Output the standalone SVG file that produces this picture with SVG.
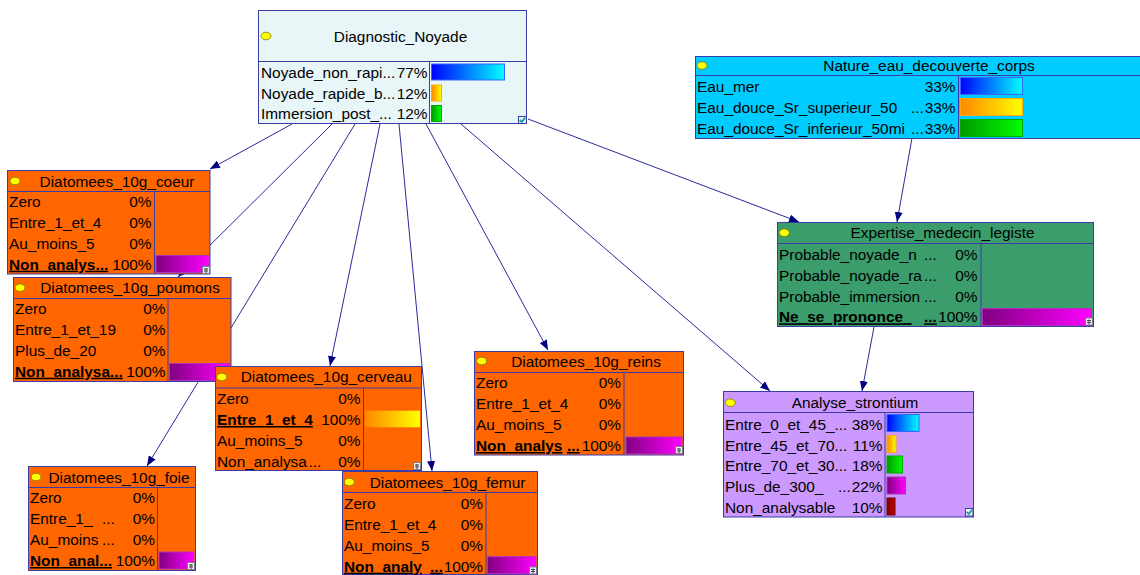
<svg xmlns="http://www.w3.org/2000/svg" width="1140" height="575" viewBox="0 0 1140 575">
<style>
.t{font-family:"Liberation Sans",Arial,sans-serif;font-size:15.4px;fill:#000}
.ttl{text-anchor:middle}
.pct{text-anchor:end}
.ev{font-weight:bold;text-decoration:underline}
.box{stroke:#3c3ca8;stroke-width:1}
.sep{stroke:#3c3ca8;stroke-width:1;fill:none}
.dot{fill:#ffff00;stroke:#7a7a00;stroke-width:0.8}
.edge{stroke:#2a2a9a;stroke-width:1;fill:none;marker-end:url(#arr)}
.or{fill:#ff6600}
.b1{fill:url(#gBlue);stroke:#3366ff;stroke-width:1}
.b2{fill:url(#gOrange);stroke:#ffaa00;stroke-width:1}
.b3{fill:url(#gGreen);stroke:#00aa00;stroke-width:1}
.b4{fill:url(#gMag);stroke:#b030c0;stroke-width:1}
.b5{fill:url(#gRed);stroke:#700000;stroke-width:1}
.ico{fill:#f2f2f2;stroke:#7a7a8a;stroke-width:1}
.ick{fill:#e8f4f8;stroke:#3c3ca8;stroke-width:1}
.ckm{fill:none;stroke:#1a9a9a;stroke-width:1.8}
.icl{stroke:#444;stroke-width:1}
</style>
<defs>
<linearGradient id="gBlue"><stop offset="0" stop-color="#0000ff"/><stop offset="1" stop-color="#00ffff"/></linearGradient>
<linearGradient id="gOrange"><stop offset="0" stop-color="#ff8800"/><stop offset="1" stop-color="#ffff00"/></linearGradient>
<linearGradient id="gGreen"><stop offset="0" stop-color="#009900"/><stop offset="1" stop-color="#00ff00"/></linearGradient>
<linearGradient id="gMag"><stop offset="0" stop-color="#800080"/><stop offset="1" stop-color="#ff00ff"/></linearGradient>
<linearGradient id="gRed"><stop offset="0" stop-color="#800000"/><stop offset="1" stop-color="#c00000"/></linearGradient>
<marker id="arr" viewBox="0 0 10 8" refX="10" refY="4" markerWidth="10" markerHeight="8" markerUnits="userSpaceOnUse" orient="auto"><path d="M0,0 L10,4 L0,8 z" fill="#000080"/></marker>
</defs>
<rect x="0" y="0" width="1140" height="575" fill="#ffffff"/>

<g id="connectors">
<line class="edge" x1="292" y1="124" x2="210" y2="169"/>
<line class="edge" x1="332" y1="124" x2="178" y2="277"/>
<line class="edge" x1="355" y1="124" x2="147" y2="466"/>
<line class="edge" x1="380" y1="124" x2="330" y2="366"/>
<line class="edge" x1="399" y1="124" x2="432" y2="471"/>
<line class="edge" x1="426" y1="124" x2="548" y2="350"/>
<line class="edge" x1="461" y1="124" x2="770" y2="391"/>
<line class="edge" x1="528" y1="119" x2="799" y2="222"/>
<line class="edge" x1="912" y1="138" x2="897" y2="222"/>
<line class="edge" x1="874" y1="327" x2="862" y2="391"/>
</g>

<g id="n-diagnostic">
<rect class="box" x="258.5" y="10.5" width="268" height="113" fill="#e8f6f7"/>
<line class="sep" x1="258.5" y1="61.5" x2="526.5" y2="61.5"/>
<line class="sep" x1="429.5" y1="61.5" x2="429.5" y2="123.5"/>
<ellipse class="dot" cx="266" cy="36" rx="5" ry="3.8"/>
<text class="t ttl" x="400.5" y="41.5">Diagnostic_Noyade</text>
<text class="t" x="261" y="78">Noyade_non_rapi...</text><text class="t pct" x="427.5" y="78">77%</text>
<text class="t" x="261" y="98.5">Noyade_rapide_b...</text><text class="t pct" x="427.5" y="98.5">12%</text>
<text class="t" x="261" y="119">Immersion_post_...</text><text class="t pct" x="427.5" y="119">12%</text>
<rect class="b1" x="431.5" y="64" width="73" height="16"/>
<rect class="b2" x="431.5" y="85" width="10" height="16"/>
<rect class="b3" x="431.5" y="105.5" width="10" height="16"/>
<rect class="ick" x="518.5" y="116.5" width="8" height="7"/>
<path class="ckm" d="M519.8,120 L521.8,122 L525.2,117.6"/>
</g>

<g id="n-nature">
<rect class="box" x="695.5" y="56.5" width="452" height="82" fill="#00ccff"/>
<line class="sep" x1="695.5" y1="75.5" x2="1140" y2="75.5"/>
<line class="sep" x1="958.5" y1="75.5" x2="958.5" y2="138.5"/>
<ellipse class="dot" cx="702" cy="65.5" rx="5" ry="3.8"/>
<text class="t ttl" x="929" y="71">Nature_eau_decouverte_corps</text>
<text class="t" x="697" y="92.3">Eau_mer</text><text class="t pct" x="955.5" y="92.3">33%</text>
<text class="t" x="697" y="113.3">Eau_douce_Sr_superieur_50<tspan x="911">...</tspan></text><text class="t pct" x="955.5" y="113.3">33%</text>
<text class="t" x="697" y="134.3">Eau_douce_Sr_inferieur_50mi<tspan x="911">...</tspan></text><text class="t pct" x="955.5" y="134.3">33%</text>
<rect class="b1" x="960.5" y="77.5" width="62" height="17"/>
<rect class="b2" x="960.5" y="98.5" width="62" height="17"/>
<rect class="b3" x="960.5" y="119.5" width="62" height="17"/>
</g>

<g id="n-coeur">
<rect class="box or" x="7.5" y="170.5" width="202.5" height="103.5"/>
<line class="sep" x1="7.5" y1="191.5" x2="210" y2="191.5"/>
<line class="sep" x1="154.5" y1="191.5" x2="154.5" y2="274"/>
<ellipse class="dot" cx="15" cy="181" rx="5" ry="3.8"/>
<text class="t ttl" x="117" y="186.5">Diatomees_10g_coeur</text>
<text class="t" x="9" y="206.7">Zero</text><text class="t pct" x="151.5" y="206.7">0%</text>
<text class="t" x="9" y="227.7">Entre_1_et_4</text><text class="t pct" x="151.5" y="227.7">0%</text>
<text class="t" x="9" y="248.7">Au_moins_5</text><text class="t pct" x="151.5" y="248.7">0%</text>
<text class="t ev" x="9" y="269.7">Non_analys...</text><text class="t pct" x="151.5" y="269.7">100%</text>
<rect class="b4" x="156" y="255.5" width="53" height="17"/>
<rect class="ico" x="202.5" y="266.5" width="7" height="7"/>
<path class="icl" d="M204,269 h4 M204,271 h4 M206,268 v5"/>
</g>

<g id="n-poumons">
<rect class="box or" x="13.5" y="277.5" width="217.5" height="104"/>
<line class="sep" x1="13.5" y1="298.5" x2="231" y2="298.5"/>
<line class="sep" x1="168" y1="298.5" x2="168" y2="381.5"/>
<ellipse class="dot" cx="20" cy="287.7" rx="5" ry="3.8"/>
<text class="t ttl" x="130" y="293">Diatomees_10g_poumons</text>
<text class="t" x="15" y="314">Zero</text><text class="t pct" x="165.5" y="314">0%</text>
<text class="t" x="15" y="335">Entre_1_et_19</text><text class="t pct" x="165.5" y="335">0%</text>
<text class="t" x="15" y="355.7">Plus_de_20</text><text class="t pct" x="165.5" y="355.7">0%</text>
<text class="t ev" x="15" y="376.7">Non_analysa...</text><text class="t pct" x="165.5" y="376.7">100%</text>
<rect class="b4" x="169.5" y="363.5" width="60" height="17"/>
</g>

<g id="n-cerveau">
<rect class="box or" x="215.5" y="366.5" width="206" height="104"/>
<line class="sep" x1="215.5" y1="388" x2="421.5" y2="388"/>
<line class="sep" x1="363.5" y1="388" x2="363.5" y2="470.5"/>
<ellipse class="dot" cx="221.7" cy="377" rx="5" ry="3.8"/>
<text class="t ttl" x="326.3" y="382.3">Diatomees_10g_cerveau</text>
<text class="t" x="217" y="404">Zero</text><text class="t pct" x="360.5" y="404">0%</text>
<text class="t ev" x="217" y="425">Entre_1_et_4</text><text class="t pct" x="360.5" y="425">100%</text>
<text class="t" x="217" y="446">Au_moins_5</text><text class="t pct" x="360.5" y="446">0%</text>
<text class="t" x="217" y="466.7">Non_analysa<tspan x="308.5">...</tspan></text><text class="t pct" x="360.5" y="466.7">0%</text>
<rect x="365" y="410.7" width="55" height="16.6" fill="url(#gOrange)"/>
<rect class="ico" x="413.5" y="462.5" width="7" height="7"/>
<path class="icl" d="M415,465 h4 M415,467 h4 M417,464 v5"/>
</g>

<g id="n-foie">
<rect class="box or" x="28.5" y="466.5" width="167" height="104"/>
<line class="sep" x1="28.5" y1="487.5" x2="195.5" y2="487.5"/>
<line class="sep" x1="157.5" y1="487.5" x2="157.5" y2="570.5"/>
<ellipse class="dot" cx="36" cy="477" rx="5" ry="3.8"/>
<text class="t ttl" x="119" y="482.5">Diatomees_10g_foie</text>
<text class="t" x="30" y="503.3">Zero</text><text class="t pct" x="155" y="503.3">0%</text>
<text class="t" x="30" y="524">Entre_1_<tspan x="102">...</tspan></text><text class="t pct" x="155" y="524">0%</text>
<text class="t" x="30" y="545">Au_moins<tspan x="102">...</tspan></text><text class="t pct" x="155" y="545">0%</text>
<text class="t ev" x="30" y="566">Non_anal...</text><text class="t pct" x="155" y="566">100%</text>
<rect class="b4" x="159" y="552" width="35" height="17"/>
<rect class="ico" x="187.5" y="562.5" width="7" height="7"/>
<path class="icl" d="M189,565 h4 M189,567 h4 M191,564 v5"/>
</g>

<g id="n-femur">
<rect class="box or" x="342.5" y="471.5" width="195" height="103"/>
<line class="sep" x1="342.5" y1="492.5" x2="537.5" y2="492.5"/>
<line class="sep" x1="486" y1="492.5" x2="486" y2="574.5"/>
<ellipse class="dot" cx="349.3" cy="482" rx="5" ry="3.8"/>
<text class="t ttl" x="447.5" y="487.7">Diatomees_10g_femur</text>
<text class="t" x="344" y="509">Zero</text><text class="t pct" x="483" y="509">0%</text>
<text class="t" x="344" y="530">Entre_1_et_4</text><text class="t pct" x="483" y="530">0%</text>
<text class="t" x="344" y="550.7">Au_moins_5</text><text class="t pct" x="483" y="550.7">0%</text>
<text class="t ev" x="344" y="571.7">Non_analy<tspan x="430">...</tspan></text><text class="t pct" x="483" y="571.7">100%</text>
<rect class="b4" x="487.5" y="556.7" width="48.5" height="17"/>
<rect class="ico" x="529.5" y="567" width="7" height="7"/>
<path class="icl" d="M531,569.5 h4 M531,571.5 h4 M533,568.5 v5"/>
</g>

<g id="n-reins">
<rect class="box or" x="474.5" y="351.5" width="209" height="103.5"/>
<line class="sep" x1="474.5" y1="372.5" x2="683.5" y2="372.5"/>
<line class="sep" x1="624" y1="372.5" x2="624" y2="455"/>
<ellipse class="dot" cx="481.7" cy="361" rx="5" ry="3.8"/>
<text class="t ttl" x="586" y="366.5">Diatomees_10g_reins</text>
<text class="t" x="476" y="388.3">Zero</text><text class="t pct" x="621" y="388.3">0%</text>
<text class="t" x="476" y="409.3">Entre_1_et_4</text><text class="t pct" x="621" y="409.3">0%</text>
<text class="t" x="476" y="430">Au_moins_5</text><text class="t pct" x="621" y="430">0%</text>
<text class="t ev" x="476" y="451">Non_analys<tspan x="567">...</tspan></text><text class="t pct" x="621" y="451">100%</text>
<rect class="b4" x="626" y="437" width="56" height="17"/>
<rect class="ico" x="675.5" y="446.5" width="7" height="7"/>
<path class="icl" d="M677,449 h4 M677,451 h4 M679,448 v5"/>
</g>

<g id="n-expertise">
<rect class="box" x="777.5" y="222.5" width="316" height="104" fill="#3b9c6c"/>
<line class="sep" x1="777.5" y1="243.5" x2="1093.5" y2="243.5"/>
<line class="sep" x1="981" y1="243.5" x2="981" y2="326.5"/>
<ellipse class="dot" cx="784.3" cy="232.7" rx="5" ry="3.8"/>
<text class="t ttl" x="942.5" y="238">Expertise_medecin_legiste</text>
<text class="t" x="779" y="259.7">Probable_noyade_n<tspan x="924">...</tspan></text><text class="t pct" x="977.5" y="259.7">0%</text>
<text class="t" x="779" y="281">Probable_noyade_ra<tspan x="924">...</tspan></text><text class="t pct" x="977.5" y="281">0%</text>
<text class="t" x="779" y="301.7">Probable_immersion<tspan x="924">...</tspan></text><text class="t pct" x="977.5" y="301.7">0%</text>
<text class="t ev" x="779" y="322.3">Ne_se_prononce_<tspan x="924">...</tspan></text><text class="t pct" x="977.5" y="322.3">100%</text>
<rect class="b4" x="982.5" y="308.5" width="109" height="17"/>
<rect class="ico" x="1085.5" y="318" width="7" height="7"/>
<path class="icl" d="M1087,320.5 h4 M1087,322.5 h4 M1089,319.5 v5"/>
</g>

<g id="n-strontium">
<rect class="box" x="723.5" y="391.5" width="250" height="125.5" fill="#cc99ff"/>
<line class="sep" x1="723.5" y1="412.5" x2="973.5" y2="412.5"/>
<line class="sep" x1="885" y1="412.5" x2="885" y2="517"/>
<ellipse class="dot" cx="730.3" cy="402.7" rx="5" ry="3.8"/>
<text class="t ttl" x="855" y="408">Analyse_strontium</text>
<text class="t" x="725" y="429.7">Entre_0_et_45_...</text><text class="t pct" x="882.5" y="429.7">38%</text>
<text class="t" x="725" y="450.7">Entre_45_et_70...</text><text class="t pct" x="882.5" y="450.7">11%</text>
<text class="t" x="725" y="471.3">Entre_70_et_30...</text><text class="t pct" x="882.5" y="471.3">18%</text>
<text class="t" x="725" y="492.3">Plus_de_300_<tspan x="838">...</tspan></text><text class="t pct" x="882.5" y="492.3">22%</text>
<text class="t" x="725" y="513.3">Non_analysable</text><text class="t pct" x="882.5" y="513.3">10%</text>
<rect class="b1" x="887" y="414.5" width="32" height="17"/>
<rect class="b2" x="887" y="435.5" width="9" height="17"/>
<rect class="b3" x="887" y="456" width="15.5" height="17"/>
<rect class="b4" x="887" y="477" width="18.5" height="17"/>
<rect class="b5" x="887" y="498" width="8" height="17"/>
<rect class="ick" x="965.5" y="508.5" width="7.5" height="7.5"/>
<path class="ckm" d="M966.8,512 L968.8,514 L972,509.8"/>
</g>
</svg>
